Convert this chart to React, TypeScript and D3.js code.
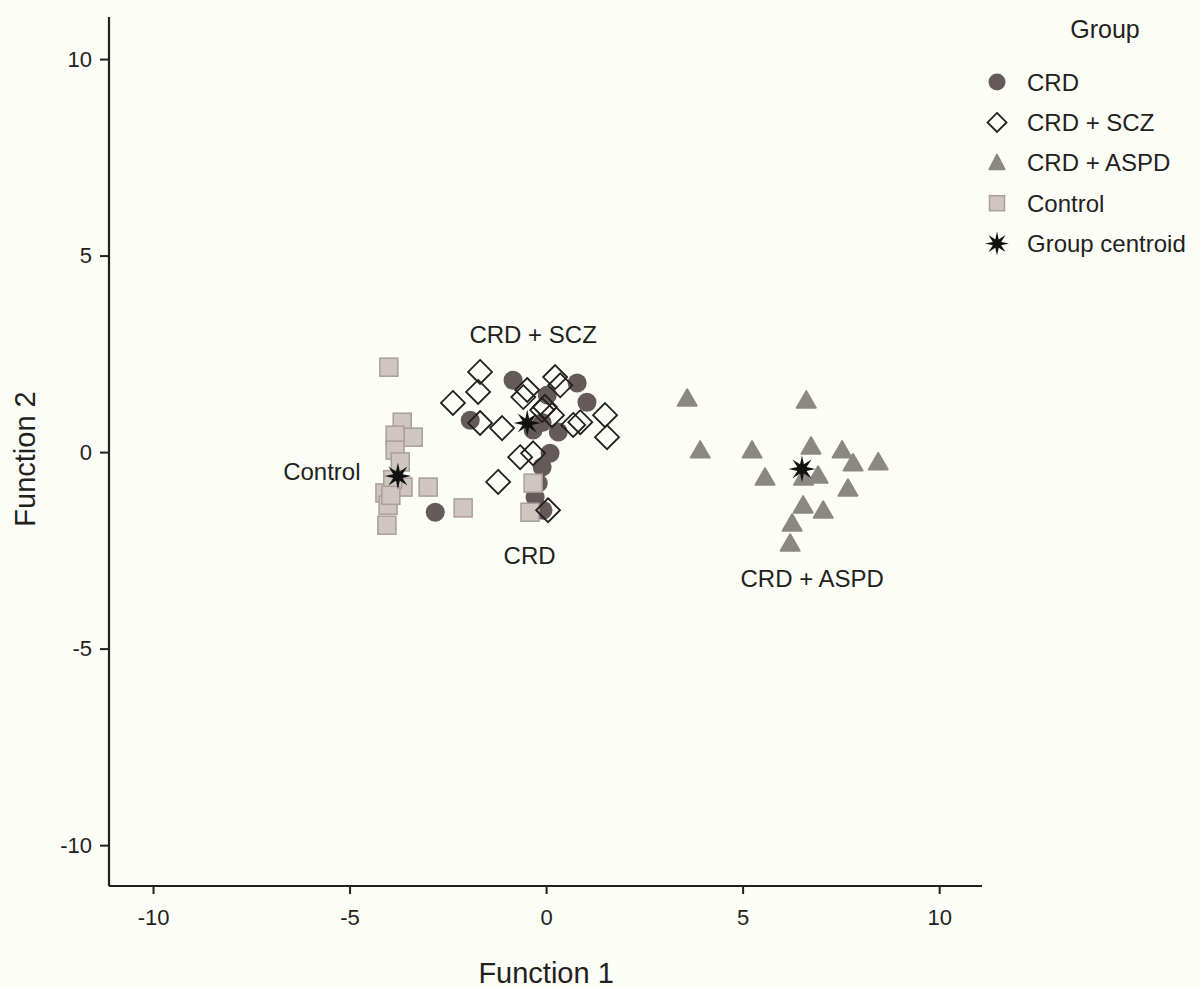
import { useEffect, useRef } from "react";
import * as d3 from "d3";

// discriminant function scores
const crdPoints = [
  [-0.84, 1.83], [0.79, 1.76], [0.03, 1.45], [1.04, 1.27], [-1.93, 0.81],
  [0.31, 0.51], [-0.33, 0.56], [-0.1, 0.75], [0.1, -0.03], [-0.1, -0.38],
  [-0.2, -0.79], [-0.28, -1.15], [-0.08, -1.48], [-2.82, -1.53],
];
const sczPoints = [
  [-1.68, 2.04], [-1.73, 1.53], [-2.37, 1.25], [-0.48, 1.58], [-0.58, 1.4],
  [0.23, 1.91], [0.36, 1.7], [-0.03, 1.15], [0.15, 0.94], [-0.1, 1.07],
  [-1.68, 0.74], [-1.12, 0.61], [0.69, 0.69], [0.87, 0.76], [1.5, 0.94],
  [1.55, 0.38], [-0.66, -0.13], [-0.33, -0.03], [-1.22, -0.76], [0.05, -1.48],
];
const aspdPoints = [
  [3.59, 1.37], [6.62, 1.32], [3.92, 0.05], [5.24, 0.05], [6.74, 0.15],
  [7.53, 0.05], [7.81, -0.28], [8.45, -0.25], [5.57, -0.64], [6.92, -0.59],
  [6.55, -0.64], [7.68, -0.92], [6.54, -1.35], [7.05, -1.48], [6.26, -1.81],
  [6.21, -2.32],
];
const controlPoints = [
  [-4.0, 2.16], [-3.66, 0.76], [-3.38, 0.38], [-3.84, 0.43], [-3.84, 0.05],
  [-3.71, -0.25], [-3.64, -0.89], [-3.0, -0.89], [-4.1, -1.04], [-3.9, -0.7],
  [-4.02, -1.35], [-3.95, -1.1], [-4.05, -1.86], [-2.11, -1.42], [-0.33, -0.79],
  [-0.41, -1.53],
];
const centroids = [
  [-0.48, 0.74], [6.51, -0.43], [-3.77, -0.61],
];

const xTicks = [-10, -5, 0, 5, 10];
const yTicks = [-10, -5, 0, 5, 10];

const groupLabels = [
  { text: "CRD + SCZ", x: -0.33, y: 2.77, anchor: "middle" },
  { text: "Control", x: -4.72, y: -0.71, anchor: "end" },
  { text: "CRD", x: -0.42, y: -2.86, anchor: "middle" },
  { text: "CRD + ASPD", x: 6.77, y: -3.43, anchor: "middle" },
];
const legendItems = ["CRD", "CRD + SCZ", "CRD + ASPD", "Control", "Group centroid"];

const ink = "#231f20";
const font = "'Liberation Sans', Arial, sans-serif";

function starPath(outer: number, inner: number) {
  const pts: [number, number][] = d3.range(16).map((i) => {
    const a = (i * Math.PI) / 8;
    const r = i % 2 === 0 ? outer : inner;
    return [Math.sin(a) * r, -Math.cos(a) * r];
  });
  return d3.line()(pts) + "Z";
}

export default function App() {
  const svgRef = useRef(null);

  useEffect(() => {
    const width = 1200;
    const height = 989;

    const svg = d3.select(svgRef.current);
    svg.selectAll("*").remove();
    svg.attr("width", width).attr("height", height);

    svg.append("rect").attr("width", width).attr("height", height).attr("fill", "#fdfdf7");

    const x = d3.scaleLinear().domain([-11.12, 11.09]).range([109, 982]);
    const y = d3.scaleLinear().domain([-11.04, 11.07]).range([886, 17]);

    // axes
    const xAxis = svg
      .append("g")
      .attr("transform", `translate(0, ${y(-11.04)})`)
      .call(d3.axisBottom(x).tickValues(xTicks).tickFormat((d) => String(d)).tickSize(8).tickPadding(15));
    const yAxis = svg
      .append("g")
      .attr("transform", `translate(${x(-11.12)}, 0)`)
      .call(d3.axisLeft(y).tickValues(yTicks).tickFormat((d) => String(d)).tickSize(9).tickPadding(8));

    [xAxis, yAxis].forEach((g) => {
      g.select(".domain").attr("stroke", ink).attr("stroke-width", 2.2);
      g.selectAll(".tick line").attr("stroke", ink).attr("stroke-width", 2);
      g.selectAll(".tick text")
        .attr("fill", ink)
        .style("font-family", font)
        .style("font-size", "22px");
    });
    xAxis.select(".domain").attr("d", `M${x(-11.12)},0H${x(11.09)}`);
    yAxis.select(".domain").attr("d", `M0,${y(-11.04)}V${y(11.07)}`);

    svg
      .append("text")
      .attr("x", x(0))
      .attr("y", 983)
      .attr("text-anchor", "middle")
      .attr("fill", ink)
      .style("font-family", font)
      .style("font-size", "29px")
      .text("Function 1");

    svg
      .append("text")
      .attr("transform", `translate(35, 459) rotate(-90)`)
      .attr("text-anchor", "middle")
      .attr("fill", ink)
      .style("font-family", font)
      .style("font-size", "29px")
      .text("Function 2");

    const plot = svg.append("g");

    // CRD circles
    plot
      .selectAll("circle.crd")
      .data(crdPoints)
      .enter()
      .append("circle")
      .attr("class", "crd")
      .attr("cx", (d) => x(d[0]))
      .attr("cy", (d) => y(d[1]))
      .attr("r", 9.5)
      .attr("fill", "#655a5a");

    // Control squares
    plot
      .selectAll("rect.ctrl")
      .data(controlPoints)
      .enter()
      .append("rect")
      .attr("class", "ctrl")
      .attr("x", (d) => x(d[0]) - 9)
      .attr("y", (d) => y(d[1]) - 9)
      .attr("width", 18)
      .attr("height", 18)
      .attr("fill", "#d0c6c1")
      .attr("stroke", "#a89e9a")
      .attr("stroke-width", 1.5);

    // CRD + SCZ diamonds
    plot
      .selectAll("path.scz")
      .data(sczPoints)
      .enter()
      .append("path")
      .attr("class", "scz")
      .attr("transform", (d) => `translate(${x(d[0])}, ${y(d[1])})`)
      .attr("d", "M0,-12L12,0L0,12L-12,0Z")
      .attr("fill", "none")
      .attr("stroke", ink)
      .attr("stroke-width", 1.8);

    // CRD + ASPD triangles
    const tri = "M0,-9L9.5,7.5L-9.5,7.5Z";
    plot
      .selectAll("path.aspd")
      .data(aspdPoints)
      .enter()
      .append("path")
      .attr("class", "aspd")
      .attr("transform", (d) => `translate(${x(d[0])}, ${y(d[1])})`)
      .attr("d", tri)
      .attr("fill", "#8b8884")
      .attr("stroke", "#8b8884")
      .attr("stroke-width", 2)
      .attr("stroke-linejoin", "round");

    // centroids
    plot
      .selectAll("path.centroid")
      .data(centroids)
      .enter()
      .append("path")
      .attr("class", "centroid")
      .attr("transform", (d) => `translate(${x(d[0])}, ${y(d[1])})`)
      .attr("d", starPath(13.5, 5))
      .attr("fill", "#111");

    // group labels
    svg
      .selectAll("text.glabel")
      .data(groupLabels)
      .enter()
      .append("text")
      .attr("class", "glabel")
      .attr("x", (d) => x(d.x))
      .attr("y", (d) => y(d.y))
      .attr("text-anchor", (d) => d.anchor)
      .attr("fill", ink)
      .style("font-family", font)
      .style("font-size", "24px")
      .text((d) => d.text);

    // legend
    const legend = svg.append("g").attr("transform", "translate(997, 0)");
    legend
      .append("text")
      .attr("x", 108)
      .attr("y", 38)
      .attr("text-anchor", "middle")
      .attr("fill", ink)
      .style("font-family", font)
      .style("font-size", "25px")
      .text("Group");

    const row = (i: number) => 82 + i * 40.4;
    const rows = legend
      .selectAll("g.row")
      .data(legendItems)
      .enter()
      .append("g")
      .attr("class", "row")
      .attr("transform", (d, i) => `translate(0, ${row(i)})`);

    rows
      .append("text")
      .attr("x", 30)
      .attr("y", 8.5)
      .attr("fill", ink)
      .style("font-family", font)
      .style("font-size", "24px")
      .text((d) => d);

    rows.each(function (d, i) {
      const g = d3.select(this);
      if (i === 0) g.append("circle").attr("r", 8.5).attr("fill", "#655a5a");
      if (i === 1)
        g.append("path").attr("d", "M0,-9.5L9.5,0L0,9.5L-9.5,0Z").attr("fill", "none").attr("stroke", ink).attr("stroke-width", 1.8);
      if (i === 2)
        g.append("path").attr("d", "M0,-8L7.5,6.5L-7.5,6.5Z").attr("fill", "#8b8884").attr("stroke", "#8b8884").attr("stroke-width", 2).attr("stroke-linejoin", "round");
      if (i === 3)
        g.append("rect").attr("x", -7.5).attr("y", -7.5).attr("width", 15).attr("height", 15).attr("fill", "#d0c6c1").attr("stroke", "#a89e9a").attr("stroke-width", 1.5);
      if (i === 4) g.append("path").attr("d", starPath(12, 4.5)).attr("fill", "#111");
    });
  }, []);

  return (
    <svg ref={svgRef} style={{ position: "absolute", left: 0, top: 0, display: "block" }}></svg>
  );
}
